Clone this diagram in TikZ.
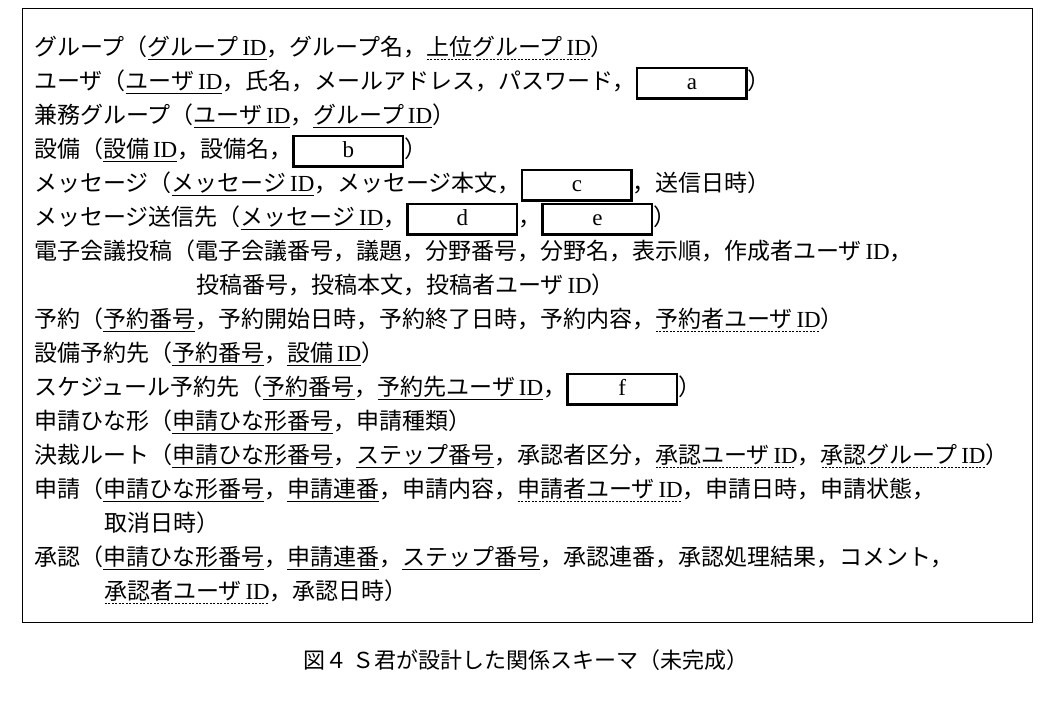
\documentclass[tikz,border=0pt]{standalone}
\usepackage{fontspec}
\setmainfont{Noto Sans CJK JP}
\newfontfamily\lat{Liberation Serif}
\newsavebox\ukbox
\newcommand\ID{{\lat\,ID}}
\newcommand\pk[1]{\sbox\ukbox{#1}\leavevmode\rlap{\rule[-5pt]{\wd\ukbox}{1.3pt}}\usebox\ukbox}
\newcommand\fk[1]{\sbox\ukbox{#1}\leavevmode\rlap{\raisebox{-5pt}{\hbox to\wd\ukbox{\leaders\hbox to 3.5pt{\hss\rule{2pt}{1.3pt}\hss}\hfill}}}\usebox\ukbox}
\newcommand\blank[1]{{\setlength\fboxrule{2.5pt}\setlength\fboxsep{2pt}\framebox[112pt]{\rule[-6pt]{0pt}{24pt}\lat #1}}}
\begin{document}
\begin{tikzpicture}[x=1pt,y=-1pt,
  ln/.style={anchor=base west,inner sep=0pt,font=\fontsize{23}{27}\selectfont}]
\useasboundingbox (0,0) rectangle (1052,705);
\node[draw,line width=1pt,minimum width=1010pt,minimum height=614pt,anchor=north west] (frame) at (22,8) {};
\node[ln] (l1) at (34,55) {グループ（\pk{グループ\ID}，グループ名，\fk{上位グループ\ID}）};
\node[ln] (l2) at (34,89) {ユーザ（\pk{ユーザ\ID}，氏名，メールアドレス，パスワード，\blank{a}）};
\node[ln] (l3) at (34,123) {兼務グループ（\pk{ユーザ\ID}，\pk{グループ\ID}）};
\node[ln] (l4) at (34,157) {設備（\pk{設備\ID}，設備名，\blank{b}）};
\node[ln] (l5) at (34,191) {メッセージ（\pk{メッセージ\ID}，メッセージ本文，\blank{c}，送信日時）};
\node[ln] (l6) at (34,225) {メッセージ送信先（\pk{メッセージ\ID}，\blank{d}，\blank{e}）};
\node[ln] (l7) at (34,259) {電子会議投稿（電子会議番号，議題，分野番号，分野名，表示順，作成者ユーザ\ID，};
\node[ln] (l8) at (196,293) {投稿番号，投稿本文，投稿者ユーザ\ID）};
\node[ln] (l9) at (34,327) {予約（\pk{予約番号}，予約開始日時，予約終了日時，予約内容，\fk{予約者ユーザ\ID}）};
\node[ln] (l10) at (34,361) {設備予約先（\pk{予約番号}，\pk{設備\ID}）};
\node[ln] (l11) at (34,395) {スケジュール予約先（\pk{予約番号}，\pk{予約先ユーザ\ID}，\blank{f}）};
\node[ln] (l12) at (34,429) {申請ひな形（\pk{申請ひな形番号}，申請種類）};
\node[ln] (l13) at (34,463) {決裁ルート（\pk{申請ひな形番号}，\pk{ステップ番号}，承認者区分，\fk{承認ユーザ\ID}，\fk{承認グループ\ID}）};
\node[ln] (l14) at (34,497) {申請（\pk{申請ひな形番号}，\pk{申請連番}，申請内容，\fk{申請者ユーザ\ID}，申請日時，申請状態，};
\node[ln] (l15) at (104,531) {取消日時）};
\node[ln] (l16) at (34,565) {承認（\pk{申請ひな形番号}，\pk{申請連番}，\pk{ステップ番号}，承認連番，承認処理結果，コメント，};
\node[ln] (l17) at (104,599) {\fk{承認者ユーザ\ID}，承認日時）};
\node[font=\fontsize{22}{26}\selectfont,inner sep=0pt] (cap) at (526,660) {図４\ Ｓ君が設計した関係スキーマ（未完成）};
\end{tikzpicture}
\end{document}
